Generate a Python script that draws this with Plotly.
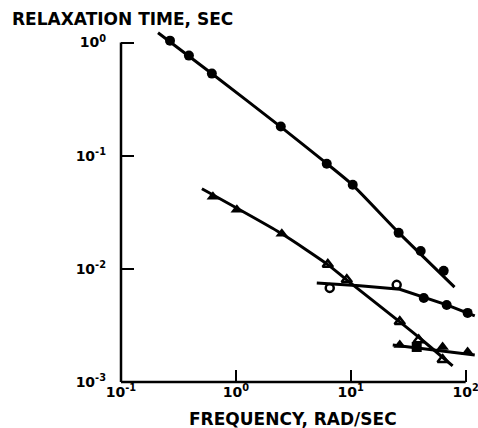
import plotly.graph_objects as go

# ---- data ----
freq_a = [0.267, 0.39, 0.618, 2.46, 6.18, 10.4, 26.1, 40.6, 64.4]
tau_a = [1.04, 0.767, 0.532, 0.181, 0.0849, 0.0554, 0.0208, 0.0144, 0.0096]
fit_a_x = [0.21, 0.62, 2.46, 6.2, 10.4, 26.0, 80.0]
fit_a_y = [1.22, 0.53, 0.18, 0.085, 0.055, 0.021, 0.0069]

freq_b = [0.631, 1.02, 2.51]
tau_b = [0.0434, 0.0333, 0.0204]
freq_c = [6.31, 9.23, 26.7, 39.0, 63.1]
tau_c = [0.0109, 0.0080, 0.0034, 0.00235, 0.00157]
fit_bc_x = [0.506, 2.51, 6.31, 9.2, 26.7, 39.8, 77.0]
fit_bc_y = [0.051, 0.0204, 0.0109, 0.0080, 0.0034, 0.00245, 0.00139]

freq_d = [6.56, 25.1]
tau_d = [0.00679, 0.00722]
freq_e = [43.2, 68.4, 104.0]
tau_e = [0.00553, 0.0048, 0.00408]
fit_de_x = [5.06, 12.0, 26.7, 43.2, 68.4, 120.0]
fit_de_y = [0.0075, 0.0071, 0.0066, 0.0056, 0.0048, 0.00384]

freq_f = [26.7, 63.0, 104.0]
tau_f = [0.00212, 0.00204, 0.00184]
freq_g = [37.5]
tau_g = [0.00204]
fit_fg_x = [23.2, 120.0]
fit_fg_y = [0.00212, 0.00173]

x_tickvals = [0.1, 1, 10, 100]
x_ticktext = ["10<sup>-1</sup>", "10<sup>0</sup>", "10<sup>1</sup>", "10<sup>2</sup>"]
y_tickvals = [0.001, 0.01, 0.1, 1]
y_ticktext = ["10<sup>-3</sup>", "10<sup>-2</sup>", "10<sup>-1</sup>", "10<sup>0</sup>"]

X_RANGE = [-1, 2.09]
Y_RANGE = [-3, 0.12]

FONT = "DejaVu Sans"
BLACK = "#000000"
LW = 3

fig = go.Figure()

def fit(x, y, smooth=True):
    fig.add_trace(go.Scatter(x=x, y=y, mode="lines",
                             line=dict(color=BLACK, width=LW,
                                       shape="spline" if smooth else "linear",
                                       smoothing=0.6),
                             hoverinfo="skip"))

def pts(x, y, symbol, size=10, lw=0):
    fig.add_trace(go.Scatter(x=x, y=y, mode="markers", cliponaxis=False,
                             marker=dict(symbol=symbol, size=size, color=BLACK,
                                         line=dict(color=BLACK, width=lw))))

fit(fit_a_x, fit_a_y)
fit(fit_bc_x, fit_bc_y)
fit(fit_de_x, fit_de_y, smooth=False)
fit(fit_fg_x, fit_fg_y, smooth=False)

pts(freq_a, tau_a, "circle", 10)
pts(freq_b, tau_b, "triangle-up", 11)
pts(freq_c, tau_c, "triangle-up-open", 9, 2.5)
pts(freq_d, tau_d, "circle-open", 8, 2.5)
pts(freq_e, tau_e, "circle", 10)
pts(freq_f, tau_f, "triangle-up", 11)
pts(freq_g, tau_g, "square", 10)

# axis lines that stop at the labelled decades
x_end = (2 - X_RANGE[0]) / (X_RANGE[1] - X_RANGE[0])
y_end = (0 - Y_RANGE[0]) / (Y_RANGE[1] - Y_RANGE[0])
fig.add_shape(type="line", xref="x domain", yref="y domain", x0=0, x1=x_end, y0=0, y1=0,
              line=dict(color=BLACK, width=2.5))
fig.add_shape(type="line", xref="x domain", yref="y domain", x0=0, x1=0, y0=0, y1=y_end,
              line=dict(color=BLACK, width=2.5))

tick_font = dict(family=FONT, size=14, color=BLACK, weight="bold")

fig.update_xaxes(type="log", range=X_RANGE, showgrid=False, zeroline=False,
                 showline=False, tickmode="array", tickvals=x_tickvals,
                 ticktext=x_ticktext, ticks="inside", ticklen=12, tickwidth=2,
                 tickcolor=BLACK, tickfont=tick_font, ticklabelstandoff=0,
                 ticklabeloverflow="allow", automargin=False)
fig.update_yaxes(type="log", range=Y_RANGE, showgrid=False, zeroline=False,
                 showline=False, tickmode="array", tickvals=y_tickvals,
                 ticktext=y_ticktext, ticks="inside", ticklen=13, tickwidth=2,
                 tickcolor=BLACK, tickfont=tick_font, ticklabelstandoff=14,
                 ticklabeloverflow="allow", automargin=False)

title_font = dict(family=FONT, size=17, color=BLACK, weight="bold")
fig.add_annotation(text="RELAXATION TIME, SEC", xref="paper", yref="paper",
                   x=-0.312, y=1.027, xanchor="left", yanchor="middle",
                   showarrow=False, font=title_font)
fig.add_annotation(text="FREQUENCY, RAD/SEC", xref="paper", yref="paper",
                   x=0.484, y=-0.105, xanchor="center", yanchor="middle",
                   showarrow=False, font=title_font)

fig.update_layout(width=478, height=428, showlegend=False,
                  plot_bgcolor="white", paper_bgcolor="white",
                  margin=dict(l=121, r=2, t=29, b=46))

fig.write_html("out.html", config={"displayModeBar": False},
               post_script="document.body.style.margin='0px';")
